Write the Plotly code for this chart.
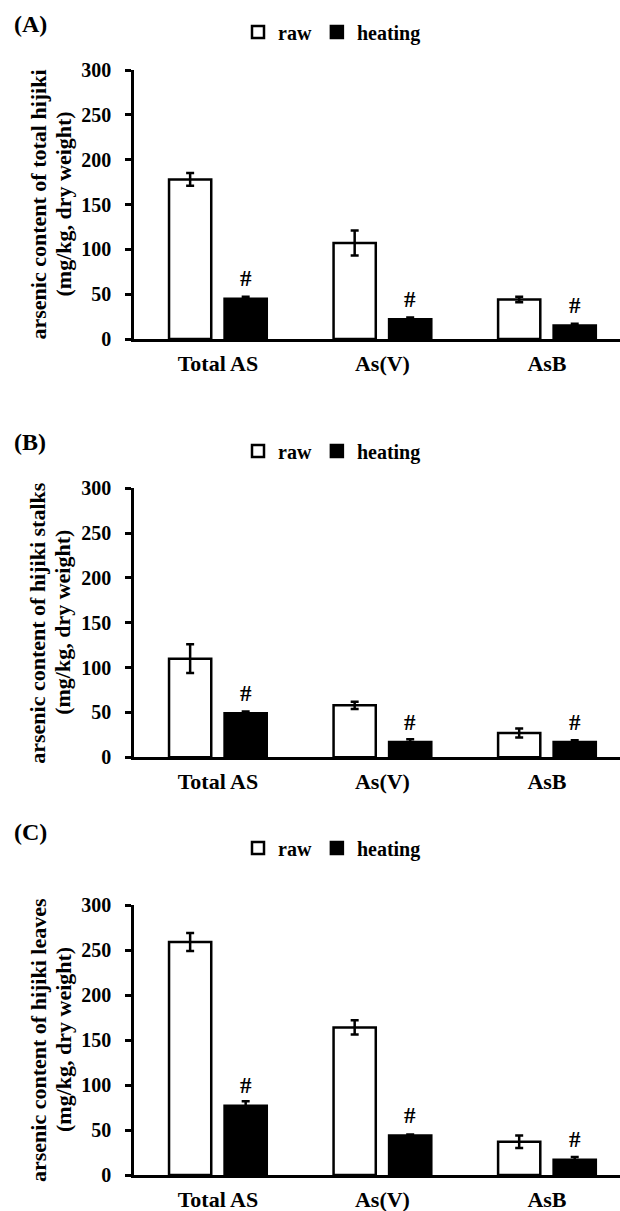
import plotly.graph_objects as go

categories = ["Total AS", "As(V)", "AsB"]
series_names = ["raw", "heating"]
panel_labels = ["(A)", "(B)", "(C)"]
y_titles_line1 = [
    "arsenic content of total hijiki",
    "arsenic content of hijiki stalks",
    "arsenic content of hijiki leaves",
]
y_title_line2 = "(mg/kg, dry weight)"
y_tick_vals = [0, 50, 100, 150, 200, 250, 300]

raw_A = [178, 107, 44]
raw_A_err = [7, 14, 3]
heat_A = [45, 22, 15]
heat_A_err = [2, 2, 2]

raw_B = [110, 58, 27]
raw_B_err = [16, 4, 5]
heat_B = [49, 17, 17]
heat_B_err = [2, 3, 2]

raw_C = [259, 164, 37]
raw_C_err = [10, 8, 7]
heat_C = [77, 44, 17]
heat_C_err = [5, 1, 3]

sig_mark = "#"

panels = [
    (raw_A, raw_A_err, heat_A, heat_A_err),
    (raw_B, raw_B_err, heat_B, heat_B_err),
    (raw_C, raw_C_err, heat_C, heat_C_err),
]

W, H = 620, 1211
FONT = "Liberation Serif"
BARGAP = 0.325
BARGROUPGAP = 0.24

# pixel layout of each panel (plot area top / bottom)
panel_px = [(70, 339), (488.3, 757.3), (905, 1175)]
label_px = [24, 442, 832]
legend_px = [32, 451, 848]
x_dom = [134 / W, 1.0]

fig = go.Figure()
layout = dict(
    width=W, height=H,
    margin=dict(l=0, r=0, t=0, b=0, autoexpand=False),
    paper_bgcolor="white", plot_bgcolor="white",
    barmode="group", bargap=BARGAP, bargroupgap=BARGROUPGAP,
    font=dict(family=FONT, color="black", size=18, weight="bold"),
    showlegend=True,
)
annotations = []

for i, (raw, raw_err, heat, heat_err) in enumerate(panels):
    sfx = "" if i == 0 else str(i + 1)
    xa, ya = "x" + sfx, "y" + sfx
    lg = "legend" + sfx
    fig.add_trace(go.Bar(
        x=categories, y=raw, name=series_names[0], xaxis=xa, yaxis=ya, legend=lg,
        marker=dict(color="white", line=dict(color="black", width=2.5)),
        error_y=dict(type="data", array=raw_err, color="black", thickness=2.5, width=4),
    ))
    fig.add_trace(go.Bar(
        x=categories, y=heat, name=series_names[1], xaxis=xa, yaxis=ya, legend=lg,
        marker=dict(color="black", line=dict(color="black", width=2.5)),
        error_y=dict(type="data", array=heat_err, color="black", thickness=2.5, width=4),
    ))
    top, bot = panel_px[i]
    layout["xaxis" + sfx] = dict(
        domain=x_dom, anchor=ya, type="category", range=[-0.51, 2.444],
        showline=True, linewidth=2.5, linecolor="black", ticks="", showgrid=False,
        tickfont=dict(family=FONT, size=22, color="black", weight="bold"),
        ticklabelstandoff=3, fixedrange=True,
    )
    layout["yaxis" + sfx] = dict(
        domain=[1 - bot / H, 1 - top / H], anchor=xa, range=[0, 300],
        tickvals=y_tick_vals, ticks="outside", ticklen=6, tickwidth=2.5, tickcolor="black",
        showline=True, linewidth=2.5, linecolor="black", showgrid=False, zeroline=False,
        tickfont=dict(family=FONT, size=20, color="black", weight="bold"),
        ticklabelstandoff=10,
    )
    layout[lg] = dict(
        orientation="h", x=332 / W, xanchor="center", y=1 - legend_px[i] / H, yanchor="middle",
        font=dict(family=FONT, size=20, color="black", weight="bold"),
        bgcolor="rgba(0,0,0,0)", itemwidth=30, traceorder="normal",
    )
    # panel label
    annotations.append(dict(
        text=panel_labels[i], xref="paper", yref="paper", x=12 / W, y=1 - label_px[i] / H,
        xanchor="left", yanchor="middle", showarrow=False,
        font=dict(family=FONT, size=24, color="black", weight="bold"),
    ))
    # y title (two lines)
    for txt, xc in ((y_titles_line1[i], 38), (y_title_line2, 63)):
        annotations.append(dict(
            text=txt, xref="paper", yref="paper", x=xc / W, y=1 - (top + bot) / 2 / H,
            xanchor="center", yanchor="middle", textangle=-90, showarrow=False,
            font=dict(family=FONT, size=22, color="black", weight="bold"),
        ))
    # significance marks above heating bars
    offset = (1 - BARGAP) / 4
    for j, v in enumerate(heat):
        annotations.append(dict(
            text=sig_mark, xref=xa, yref=ya, x=j + offset, y=v, yshift=20,
            xanchor="center", yanchor="middle", showarrow=False,
            font=dict(family=FONT, size=23, color="black", weight="bold"),
        ))

layout["annotations"] = annotations
fig.update_layout(**layout)
fig.write_html(
    "out.html",
    config={"displayModeBar": False},
    post_script="document.body.style.margin='0';document.body.style.padding='0';",
)
